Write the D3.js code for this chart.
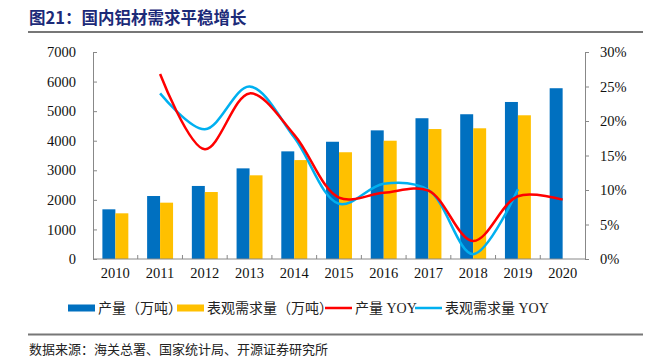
<!DOCTYPE html>
<html>
  <head>
    <meta charset="utf-8">
    <title>国内铝材需求平稳增长</title>
    <script src="https://d3js.org/d3.v7.min.js"></script>
    <style>
      body { margin: 0; background: #fff; }
      svg { display: block; }
      .axis text { font-family: "Liberation Serif", "Times New Roman", serif; font-size: 14.5px; fill: #111; }
      .axis path, .axis line { stroke: #888; }
    </style>
  </head>
  <body>
    <svg id="chart" width="659" height="361"></svg>
    <script>
      // data
      years = ["2010", "2011", "2012", "2013", "2014", "2015", "2016", "2017", "2018", "2019", "2020"];
      output = [1680, 2130, 2470, 3065, 3640, 3965, 4350, 4760, 4895, 5310, 5775];
      demand = [1545, 1905, 2265, 2830, 3345, 3610, 4000, 4395, 4420, 4860, null];
      outputYoy = [null, 26.8, 15.9, 24.0, 18.0, 8.9, 9.6, 9.9, 2.6, 9.1, 8.6];
      demandYoy = [null, 24.0, 18.8, 25.0, 17.6, 8.0, 10.9, 10.0, 0.7, 10.1, null];
      leftTicks = [0, 1000, 2000, 3000, 4000, 5000, 6000, 7000];
      rightTicks = [0, 5, 10, 15, 20, 25, 30];

      svg = d3.select("#chart");
      margin = { top: 52, right: 74, bottom: 102, left: 93 };
      width = 659 - margin.left - margin.right;
      height = 361 - margin.top - margin.bottom;

      // title
      svg.append("text")
        .attr("x", 29).attr("y", 24)
        .style("font-family", "'Noto Sans CJK SC', sans-serif")
        .style("font-size", "16.5px").style("font-weight", "bold")
        .style("fill", "#1c2a78")
        .text("图21：国内铝材需求平稳增长");
      svg.append("line")
        .attr("x1", 28).attr("x2", 643).attr("y1", 32).attr("y2", 32)
        .style("stroke", "#777").style("stroke-width", 2);

      g = svg.append("g").attr("transform", "translate(" + margin.left + "," + margin.top + ")");

      x = d3.scaleBand().domain(years).range([0, width]);
      y = d3.scaleLinear().domain([0, 7000]).range([height, 0]);
      y2 = d3.scaleLinear().domain([0, 30]).range([height, 0]);
      barW = x.bandwidth() * 0.29;

      // bars
      g.selectAll(".out")
          .data(years.map(function(d, i) { return [d, output[i]]; }))
        .enter().append("rect")
          .attr("x", function(d) { return x(d[0]) + x.bandwidth() / 2 - barW; })
          .attr("y", function(d) { return y(d[1]); })
          .attr("width", barW)
          .attr("height", function(d) { return height - y(d[1]); })
          .style("fill", "#0070c0");
      g.selectAll(".dem")
          .data(years.map(function(d, i) { return [d, demand[i]]; }).filter(function(d) { return d[1] != null; }))
        .enter().append("rect")
          .attr("x", function(d) { return x(d[0]) + x.bandwidth() / 2; })
          .attr("y", function(d) { return y(d[1]); })
          .attr("width", barW)
          .attr("height", function(d) { return height - y(d[1]); })
          .style("fill", "#ffc000");

      // axes
      yAxis = d3.axisLeft(y).tickValues(leftTicks).tickFormat(d3.format("d"))
        .tickSizeInner(-4).tickSizeOuter(-4).tickPadding(17);
      g.append("g").attr("class", "axis").call(yAxis);
      y2Axis = d3.axisRight(y2).tickValues(rightTicks).tickFormat(function(d) { return d + "%"; })
        .tickSizeInner(4).tickSizeOuter(4).tickPadding(11);
      g.append("g").attr("class", "axis").attr("transform", "translate(" + width + ",0)").call(y2Axis);
      xAxis = d3.axisBottom(x).tickSize(0).tickPadding(9);
      xg = g.append("g").attr("class", "axis").attr("transform", "translate(0," + height + ")").call(xAxis);
      xg.select(".domain").remove();
      xg.append("line").attr("x1", 0).attr("x2", width).style("stroke", "#888");
      xg.selectAll(".sep")
          .data(years.slice(1))
        .enter().append("line")
          .attr("x1", function(d) { return x(d); })
          .attr("x2", function(d) { return x(d); })
          .attr("y1", 0).attr("y2", -4)
          .style("stroke", "#888");

      // lines
      line = d3.line()
        .x(function(d) { return x(d[0]) + x.bandwidth() / 2; })
        .y(function(d) { return y2(d[1]); })
        .curve(d3.curveCatmullRom.alpha(0.5));
      g.append("path")
        .datum(years.map(function(d, i) { return [d, demandYoy[i]]; }).filter(function(d) { return d[1] != null; }))
        .attr("d", line)
        .style("fill", "none").style("stroke", "#00b0f0").style("stroke-width", 2.5);
      g.append("path")
        .datum(years.map(function(d, i) { return [d, outputYoy[i]]; }).filter(function(d) { return d[1] != null; }))
        .attr("d", line)
        .style("fill", "none").style("stroke", "#ff0000").style("stroke-width", 2.5);

      // legend
      legendItems = [
        ["产量（万吨）", "#0070c0", "bar", 68],
        ["表观需求量（万吨）", "#ffc000", "bar", 177],
        ["产量 YOY", "#ff0000", "line", 325],
        ["表观需求量 YOY", "#00b0f0", "line", 415]
      ];
      legend = svg.append("g").attr("transform", "translate(0,308)");
      items = legend.selectAll(".item")
          .data(legendItems)
        .enter().append("g")
          .attr("transform", function(d) { return "translate(" + d[3] + ",0)"; });
      items.append("rect")
        .attr("x", 0).attr("width", 27)
        .attr("y", function(d) { return d[2] == "bar" ? -3.5 : -1.25; })
        .attr("height", function(d) { return d[2] == "bar" ? 7 : 2.5; })
        .style("fill", function(d) { return d[1]; });
      items.append("text")
        .attr("x", 30).attr("y", 5)
        .style("font-family", "'Liberation Serif', 'Noto Sans CJK SC', serif")
        .style("font-size", "14px").style("fill", "#222")
        .text(function(d) { return d[0]; });

      // source
      svg.append("line")
        .attr("x1", 28).attr("x2", 643).attr("y1", 334.5).attr("y2", 334.5)
        .style("stroke", "#777").style("stroke-width", 2);
      svg.append("text")
        .attr("x", 29).attr("y", 354)
        .style("font-family", "'Noto Sans CJK SC', sans-serif")
        .style("font-size", "13px").style("fill", "#222")
        .text("数据来源：海关总署、国家统计局、开源证券研究所");
    </script>
  </body>
</html>
